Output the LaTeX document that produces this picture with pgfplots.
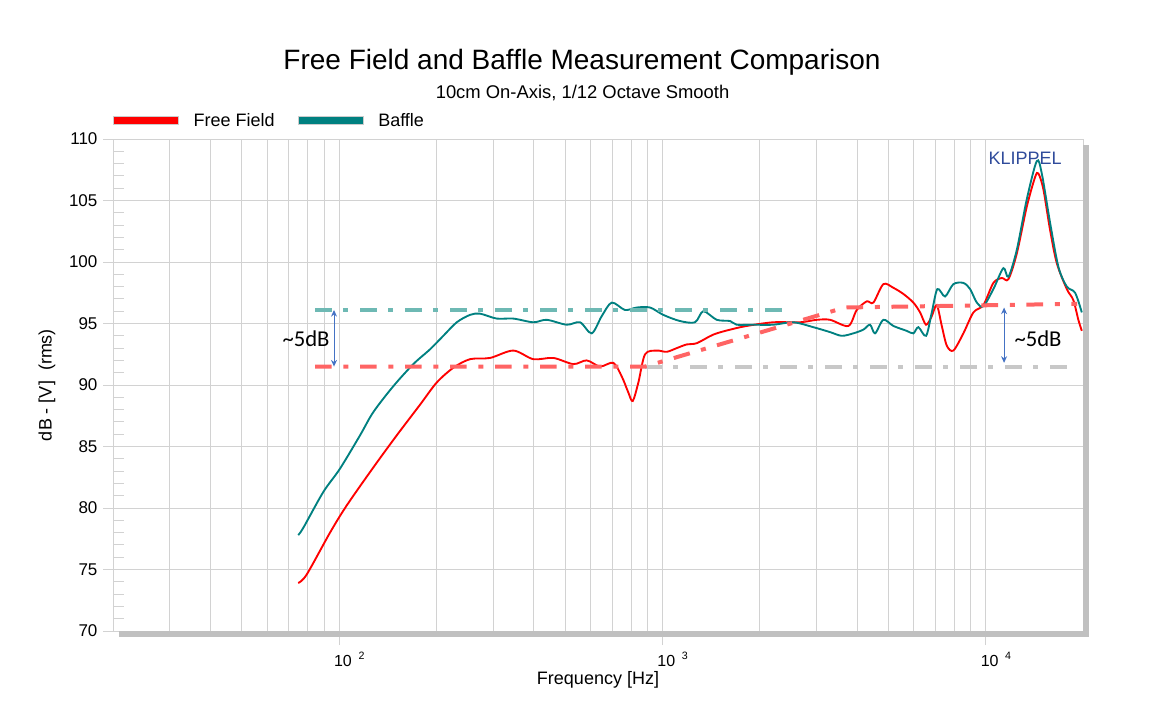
\documentclass[border=0pt]{standalone}
\usepackage{pgfplots}
\pgfplotsset{compat=1.18}
\usetikzlibrary{arrows.meta}
\usepackage{fontspec}
\setmainfont{Liberation Sans}
\newfontfamily\calibri{Carlito}
\definecolor{ffred}{RGB}{255,0,0}
\definecolor{baffle}{RGB}{0,128,128}
\definecolor{teallite}{RGB}{110,185,180}
\definecolor{redlite}{RGB}{255,100,100}
\definecolor{graylite}{RGB}{200,200,200}
\definecolor{gridgray}{RGB}{210,210,210}
\definecolor{shadowgray}{RGB}{192,192,192}
\definecolor{arrowblue}{RGB}{68,114,196}
\definecolor{klippel}{RGB}{47,75,155}
\newcommand{\dec}[1]{10\hspace{5pt}\raisebox{4.5pt}{\fontsize{8}{9}\selectfont #1}}

\pgfplotstableread{
f db
74.8 73.9
79.5 74.6
93.8 78.0
105.6 80.2
127.7 83.3
150.8 85.9
178.1 88.4
200.5 90.2
225.7 91.4
254.2 92.1
293.2 92.2
346.0 92.8
399.0 92.1
460.2 92.2
530.5 91.7
583.7 92.0
641.7 91.5
705.3 91.8
748.8 90.7
784.8 89.4
809.8 88.7
843.0 90.2
884.2 92.5
960.9 92.8
1032 92.7
1108 93.0
1190 93.3
1278 93.4
1438 94.1
1620 94.5
1824 94.8
2204 95.1
2666 95.1
3003 95.3
3302 95.3
3761 94.8
3993 96.1
4287 96.8
4494 96.7
4826 98.2
5183 97.9
5566 97.4
5975 96.7
6269 95.9
6541 94.9
6812 95.6
7060 96.5
7316 94.8
7582 93.2
7945 92.8
8531 94.2
9162 95.9
9838 96.5
10564 98.3
11216 98.7
11756 98.6
12484 100.7
13401 104.5
14217 106.9
14555 107.2
15083 105.9
15819 102.6
16596 99.9
17819 97.8
18670 96.9
19348 95.3
19830 94.4
}\freefield

\pgfplotstableread{
f db
74.8 77.8
77.6 78.4
89.4 81.3
100.7 83.2
116.1 85.9
127.7 87.8
147.2 89.9
169.8 91.7
191.2 92.9
210.2 94.0
231.3 95.1
254.2 95.7
273.0 95.8
307.5 95.4
346.0 95.4
399.0 95.1
439.0 95.3
506.0 94.9
556.5 95.1
604.7 94.2
649.5 95.6
697.4 96.7
766.6 96.1
833.4 96.3
916.2 96.3
1007 95.7
1134 95.2
1262 95.1
1339 96.0
1473 95.3
1620 95.2
1699 94.9
1912 94.9
2204 94.9
2542 95.1
2932 94.7
3302 94.3
3588 94.0
3898 94.2
4184 94.5
4389 94.9
4549 94.2
4826 95.3
5183 94.8
5702 94.4
5975 94.2
6193 94.7
6541 94.0
6812 95.9
7090 97.8
7489 97.2
7945 98.2
8531 98.3
8950 97.8
9387 96.7
9838 96.4
10564 97.8
11343 99.5
11756 98.8
12484 101.0
13401 105.1
14388 108.2
14911 107.2
15819 103.2
16788 99.6
17819 98.0
18907 97.5
19830 95.9
}\baffletab

\begin{document}
\begin{tikzpicture}[x=1pt,y=1pt]
\useasboundingbox (0,0) rectangle (876,533.25);
\node[anchor=base, font=\fontsize{21}{25}\selectfont] at (436.5,480.75) {Free Field and Baffle Measurement Comparison};
\node[anchor=base, font=\fontsize{13.8}{16}\selectfont] at (436.9,459.5) {10cm On-Axis, 1/12 Octave Smooth};

\begin{axis}[at={(84.75pt,60pt)}, anchor=south west, scale only axis,
  width=727.5pt, height=369pt, xmode=log, xmin=20, xmax=20000, ymin=70, ymax=110,
  name=main,
  axis line style={gridgray, line width=0.75pt},
  xtick={100,1000,10000},
  xticklabels={\dec{2},\dec{3},\dec{4}},
  minor xtick={20,30,40,50,60,70,80,90,200,300,400,500,600,700,800,900,2000,3000,4000,5000,6000,7000,8000,9000,20000},
  ytick={70,75,...,110},
  xmajorgrids, xminorgrids, ymajorgrids,
  major grid style={gridgray, line width=0.75pt},
  minor grid style={gridgray, line width=0.75pt},
  tick pos=left, tick align=outside, major tick length=7.5pt, minor tick length=0pt,
  tick style={gridgray, line width=0.75pt},
  xtick style={draw=none},
  /pgf/number format/assume math mode=true,
  yticklabel style={font=\fontsize{12.75}{15}\selectfont, anchor=east, inner sep=0pt, xshift=-4pt},
  xticklabel style={font=\fontsize{12}{14}\selectfont, anchor=base, inner sep=0pt, yshift=-18.75pt, xshift=7.7pt},
  xlabel={Frequency [Hz]}, ylabel={dB - [V]\ \ (rms)},
  xlabel style={at={(axis description cs:0.5,-0.0996)}, anchor=center, font=\fontsize{13.5}{16}\selectfont},
  ylabel style={at={(axis description cs:-0.068,0.5)}, anchor=center, font=\fontsize{13.5}{16}\selectfont},
  legend columns=2,
  legend style={at={(axis description cs:0,1)}, anchor=south west, draw=none, fill=none,
    inner sep=0pt, yshift=8pt, font=\fontsize{13.5}{16}\selectfont,
    nodes={inner sep=0pt},
    /tikz/every odd column/.append style={column sep=11pt},
    /tikz/every even column/.append style={column sep=17.5pt}},
  legend image code/.code={\filldraw[#1, draw=gray!40, line width=0.5pt] (0pt,-3pt) rectangle (48.75pt,3pt);},
]
\addplot[ffred, line width=1.4pt, smooth] table[x=f, y=db] {\freefield};
\addlegendentry{Free Field}
\addplot[baffle, line width=1.4pt, smooth] table[x=f, y=db] {\baffletab};
\addlegendentry{Baffle}

\addplot[forget plot, teallite, line width=3pt, dash pattern=on 12.5pt off 8.75pt on 3.75pt off 8.75pt]
  coordinates {(84.3,96.1) (2513,96.1)};
\addplot[forget plot, graylite, line width=3pt, dash pattern=on 12.5pt off 8.75pt on 3.75pt off 8.75pt]
  coordinates {(884,91.5) (18500,91.5)};
\addplot[forget plot, redlite, line width=3pt, dash pattern=on 12.5pt off 8.75pt on 3.75pt off 8.75pt]
  coordinates {(84.3,91.5) (884,91.5) (3665,96.3) (19170,96.6)};

\draw[arrowblue, line width=0.75pt, {Stealth[length=5pt,width=4.5pt]}-{Stealth[length=5pt,width=4.5pt]}]
  (axis cs:96.5,96.1) -- (axis cs:96.5,91.5);
\draw[arrowblue, line width=0.75pt, {Stealth[length=5pt,width=4.5pt]}-{Stealth[length=5pt,width=4.5pt]}]
  (axis cs:11400,96.3) -- (axis cs:11400,91.8);
\node[font=\calibri\fontsize{17}{20}\selectfont] at (axis cs:79.1,93.8) {\textasciitilde 5dB};
\node[font=\calibri\fontsize{17}{20}\selectfont] at (axis cs:14520,93.8) {\textasciitilde 5dB};
\node[font=\fontsize{13.5}{16}\selectfont, text=klippel] at (axis cs:13240,108.4) {KLIPPEL};
\end{axis}

\begin{axis}[at={(84.75pt,60pt)}, anchor=south west, scale only axis,
  width=727.5pt, height=369pt, xmode=log, xmin=20, xmax=20000, ymin=70, ymax=110,
  axis line style={draw=none}, xtick=\empty,
  ytick={71,72,73,74,76,77,78,79,81,82,83,84,86,87,88,89,91,92,93,94,96,97,98,99,101,102,103,104,106,107,108,109},
  yticklabel={\relax}, tick pos=left, tick align=inside, major tick length=8.25pt,
  tick style={gridgray, line width=0.75pt}]
\end{axis}

\begin{axis}[at={(84.75pt,60pt)}, anchor=south west, scale only axis,
  width=727.5pt, height=369pt, xmode=log, xmin=20, xmax=20000, ymin=70, ymax=110,
  axis line style={draw=none}, ytick=\empty,
  xtick={100,1000,10000}, xticklabel={\relax},
  tick pos=left, tick align=outside, major tick length=10.5pt, minor tick length=0pt,
  tick style={gridgray, line width=0.75pt}]
\end{axis}

\fill[shadowgray] ([xshift=4.5pt]main.south west) rectangle ([xshift=4.5pt,yshift=-4.5pt]main.south east);
\fill[shadowgray] ([yshift=-4.5pt]main.north east) rectangle ([xshift=4.5pt,yshift=-4.5pt]main.south east);
\end{tikzpicture}
\end{document}
